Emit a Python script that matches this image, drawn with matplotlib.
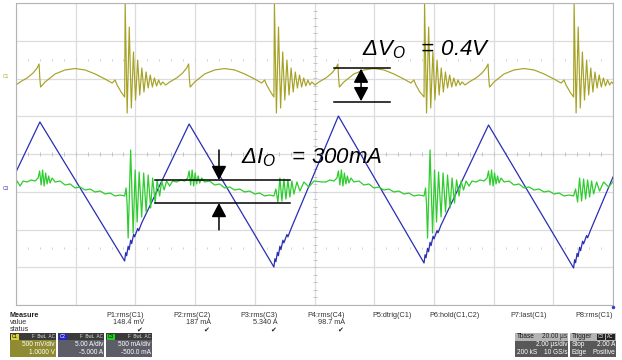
import numpy as np
import matplotlib.pyplot as plt
from matplotlib.patches import Rectangle

plt.rcParams['font.family'] = ['Liberation Sans', 'DejaVu Sans']
plt.rcParams['mathtext.fontset'] = 'custom'
plt.rcParams['mathtext.rm'] = 'Liberation Sans:italic'
plt.rcParams['mathtext.it'] = 'Liberation Sans:italic'

# switch-on edges (us), one per cycle
on_edges = [-1.37, 3.64, 8.64, 13.67, 18.68]
big_burst = [True, True, False, True, False]

# C1: output voltage (V, AC coupled), one cycle after the switch-on edge
c1_dt = [0.000, 0.017, 0.084, 0.154, 0.224, 0.295, 0.365, 0.436, 0.506, 0.576,
         0.647, 0.717, 0.787, 0.858, 0.928, 0.998, 1.069, 1.139, 1.206, 1.273,
         1.374, 1.508, 1.742, 1.943, 2.077, 2.144, 2.167, 2.194, 2.345, 2.680,
         3.015, 3.350, 3.685, 4.020, 4.355, 4.590, 4.690, 4.757, 4.891]
c1_v = [-0.245, 1.000, -0.457, 0.682, -0.391, 0.351, -0.285, 0.245, -0.219, 0.139,
        -0.179, 0.086, -0.126, 0.046, -0.113, 0.007, -0.099, -0.020, -0.086, -0.046,
        -0.086, -0.046, 0.007, 0.073, 0.139, 0.192, 0.007, -0.113, -0.046, 0.060,
        0.113, 0.132, 0.113, 0.060, -0.007, -0.060, -0.020, -0.086, -0.179]

# C2: inductor current (A), peaks and valleys
c2_t = [0.0, 0.80, 3.64, 5.80, 8.64, 10.80, 13.67, 15.83, 18.68, 20.0]
c2_a = [2.62, 9.24, -9.17, 8.97, -9.97, 10.03, -9.44, 8.84, -10.10, 1.95]
# ringing on the rising slope just after each valley
c2_ring_dt = [0.034, 0.067, 0.117, 0.151, 0.201, 0.235, 0.302, 0.335, 0.436, 0.469, 0.570]
c2_ring_da = [1.10, 0.70, 1.95, 1.50, 2.75, 2.30, 3.55, 3.20, 4.30, 4.00, 5.03]

# C3: output current (A, AC coupled)
c3_big_dt = [0.000, 0.050, 0.084, 0.117, 0.201, 0.285, 0.352, 0.419, 0.486, 0.570,
             0.637, 0.720, 0.787, 0.871, 0.938, 1.022, 1.089, 1.173, 1.240, 1.323,
             1.407, 1.508, 1.608]
c3_big_a = [-0.056, 0.050, -0.175, -0.613, 0.553, -0.546, 0.288, -0.401, 0.262, -0.334,
            0.248, -0.268, 0.222, -0.215, 0.182, -0.149, 0.156, -0.056, 0.142, 0.023,
            0.142, 0.076, 0.142]
c3_small_dt = [0.000, 0.067, 0.134, 0.201, 0.268, 0.335, 0.402, 0.469, 0.536, 0.603,
               0.670, 0.771, 0.871, 1.005, 1.173, 1.340, 1.608]
c3_small_a = [-0.056, 0.036, -0.136, 0.182, -0.123, 0.169, -0.096, 0.156, -0.070, 0.142,
              -0.030, 0.129, 0.010, 0.129, 0.063, 0.142, 0.129]
c3_tail_dt = [1.742, 1.876, 2.010, 2.111, 2.161, 2.211, 2.261, 2.312, 2.362, 2.412,
              2.462, 2.513, 2.580, 2.680, 2.848, 3.015, 3.183, 3.350, 3.518, 3.685,
              3.853, 4.020, 4.188, 4.355, 4.523, 4.690, 4.858]
c3_tail_a = [0.129, 0.156, 0.142, 0.182, 0.275, 0.089, 0.288, 0.076, 0.248, 0.103,
             0.209, 0.116, 0.182, 0.129, 0.142, 0.089, 0.103, 0.050, 0.063, 0.023,
             0.036, -0.003, 0.010, -0.030, -0.017, -0.056, -0.043]

# channel settings: (V or A)/div and offset
c1_scale, c1_offset = 0.5, 1.0
c2_scale, c2_offset = 5.0, -5.0
c3_scale, c3_offset = 0.5, -0.5

# measurements
meas_names = ['P1:rms(C1)', 'P2:rms(C2)', 'P3:rms(C3)', 'P4:rms(C4)',
              'P5:dtrig(C1)', 'P6:hold(C1,C2)', 'P7:last(C1)', 'P8:rms(C1)']
meas_values = ['148.4 mV', '187 mA', '5.340 A', '98.7 mA', '', '', '', '']
meas_ok = [True, True, True, True, False, False, False, False]

# ---- build traces ----
t1, v1 = [], []
for e in on_edges:
    t1 += [e + d for d in c1_dt]
    v1 += c1_v

t2, a2 = [c2_t[0]], [c2_a[0]]
for i in range(1, len(c2_t)):
    t2.append(c2_t[i]); a2.append(c2_a[i])
    if c2_a[i] < 0 and i < len(c2_t) - 1:
        t2 += [c2_t[i] + d for d in c2_ring_dt]
        a2 += [c2_a[i] + d for d in c2_ring_da]

t3, a3 = [], []
for e, big in zip(on_edges, big_burst):
    dts = (c3_big_dt if big else c3_small_dt) + c3_tail_dt
    vals = (c3_big_a if big else c3_small_a) + c3_tail_a
    t3 += [e + d for d in dts]
    a3 += vals

y1 = (np.array(v1) + c1_offset) / c1_scale
y2 = (np.array(a2) + c2_offset) / c2_scale
y3 = (np.array(a3) + c3_offset) / c3_scale

# ---- figure ----
fig = plt.figure(figsize=(6.22, 3.6), dpi=100)
ax = fig.add_axes([16/622, 55/360, 597/622, 302/360])
ax.set_xlim(0, 20)
ax.set_ylim(-4, 4)
ax.set_xticks(np.arange(0, 21, 2))
ax.set_yticks(np.arange(-4, 5, 1))
ax.grid(True, color='#dcdcdc', lw=0.9)
ax.tick_params(length=0, labelbottom=False, labelleft=False)
for s in ax.spines.values():
    s.set_color('#b4b4b4')

# small ticks on the centre lines and dotted rows
mx = np.arange(0.4, 20, 0.4)
ax.plot(mx, np.zeros_like(mx), '|', color='#c4c4c4', ms=3, mew=0.7)
ax.plot(mx, np.full_like(mx, 2.5), '|', color='#cfcfcf', ms=1.5, mew=0.7)
ax.plot(mx, np.full_like(mx, -2.5), '|', color='#cfcfcf', ms=1.5, mew=0.7)
my = np.arange(-3.8, 4, 0.2)
ax.plot(np.full_like(my, 10), my, '_', color='#c4c4c4', ms=3, mew=0.7)

ax.plot(t2, y2, color='#2a2eb2', lw=0.9)
ax.plot(t3, y3, color='#2fcc2f', lw=0.9)
ax.plot(t1, y1, color='#a6a226', lw=0.85)

arrow = dict(color='k', lw=1.1, mutation_scale=10, shrinkA=0, shrinkB=0)

# delta Vo annotation
ax.plot([10.65, 12.53], [2.278, 2.278], color='k', lw=1.1)
ax.plot([10.65, 12.53], [1.377, 1.377], color='k', lw=1.1)
ax.annotate('', xy=(11.56, 2.26), xytext=(11.56, 1.40),
            arrowprops=dict(arrowstyle='<|-|>,head_length=0.85,head_width=0.45', **arrow))
ax.text(11.60, 2.62, r'$\Delta V_O\ \ =\,0.4V$', fontsize=16, ha='left',
        va='baseline')

# delta Io annotation
ax.plot([4.66, 9.18], [-0.689, -0.689], color='k', lw=1.1)
ax.plot([4.66, 9.18], [-1.298, -1.298], color='k', lw=1.1)
ax.annotate('', xy=(6.80, -0.689), xytext=(6.80, 0.106),
            arrowprops=dict(arrowstyle='-|>,head_length=0.85,head_width=0.45', **arrow))
ax.annotate('', xy=(6.80, -1.298), xytext=(6.80, -2.01),
            arrowprops=dict(arrowstyle='-|>,head_length=0.85,head_width=0.45', **arrow))
ax.text(7.55, -0.238, r'$\Delta I_O\ \ =\,300mA$', fontsize=16, ha='left',
        va='baseline')

# channel markers at the left edge
fig.text(3/622, 1 - 77/360, 'C1', color='#a6a226', fontsize=3.5, va='center')
fig.text(3/622, 1 - 189/360, 'C3', color='#2a2eb2', fontsize=3.5, va='center')

# ---- status panel (pixel coordinates) ----
pan = fig.add_axes([0, 0, 1, 54/360])
pan.set_xlim(0, 622)
pan.set_ylim(360, 306)
pan.axis('off')
pan.plot([613], [306.5], 'o', color='#3040d0', ms=1.5, clip_on=False)

fs = 5.2
bfs = 4.7
pan.text(10, 315, 'Measure', fontsize=fs, fontweight='bold', va='center', color='#222')
pan.text(10, 322.8, 'value', fontsize=fs, va='center', color='#333')
pan.text(10, 329.5, 'status', fontsize=fs, va='center', color='#333')
cols_x = [144, 211, 278, 345, 412, 480, 547, 613]
for x, n, v, ok in zip(cols_x, meas_names, meas_values, meas_ok):
    pan.text(x, 315, n, fontsize=fs, ha='right', va='center', color='#333')
    if v:
        pan.text(x, 322.8, v, fontsize=fs, ha='right', va='center', color='#333')
    if ok:
        pan.text(x - 2, 329.8, '\u2714', fontsize=5, ha='right', va='center',
                 color='#222', family=['DejaVu Sans'])


def chan_box(x0, badge, badge_col, body_col, line1, line2, badge_txt='#000'):
    pan.add_patch(Rectangle((x0, 333), 46, 24, color=body_col, lw=0))
    pan.add_patch(Rectangle((x0, 333), 46, 7, color='#3a3a3a', lw=0))
    pan.add_patch(Rectangle((x0 + 0.5, 333.5), 8, 6, color=badge_col, lw=0))
    pan.text(x0 + 4.5, 336.6, badge, fontsize=3.3, ha='center', va='center',
             color=badge_txt)
    pan.text(x0 + 45, 336.6, 'F  BwL  AC', fontsize=3.3, ha='right', va='center',
             color='#e0e0e0')
    pan.text(x0 + 45, 344.5, line1, fontsize=bfs, ha='right', va='center', color='w')
    pan.text(x0 + 45, 352, line2, fontsize=bfs, ha='right', va='center', color='w')


chan_box(10, 'C1', '#d9d23a', '#8f8b32', '500 mV/div', '1.0000 V')
chan_box(58, 'C2', '#2323d0', '#5d5d68', '5.00 A/div', '-5.000 A', badge_txt='#fff')
chan_box(106, 'C3', '#22d022', '#5d5d68', '500 mA/div', '-500.0 mA')

# timebase box
pan.add_patch(Rectangle((515, 333), 53, 24, color='#585858', lw=0))
pan.add_patch(Rectangle((515, 333), 53, 7.5, color='#b4b4b4', lw=0))
pan.text(517, 336.8, 'Tbase', fontsize=bfs, va='center', color='#111')
pan.text(567, 336.8, '20.00 \u00b5s', fontsize=bfs, ha='right', va='center', color='#222')
pan.text(567, 344.8, '2.00 \u00b5s/div', fontsize=bfs, ha='right', va='center', color='w')
pan.text(517, 352.3, '200 kS', fontsize=bfs, va='center', color='w')
pan.text(567, 352.3, '10 GS/s', fontsize=bfs, ha='right', va='center', color='w')

# trigger box
pan.add_patch(Rectangle((570, 333), 46, 24, color='#585858', lw=0))
pan.add_patch(Rectangle((570, 333), 46, 7.5, color='#b4b4b4', lw=0))
pan.add_patch(Rectangle((597, 334), 8, 5.5, color='#222', lw=0))
pan.add_patch(Rectangle((606, 334), 9, 5.5, color='#222', lw=0))
pan.text(572, 336.8, 'Trigger', fontsize=bfs, va='center', color='#111')
pan.text(601, 336.8, 'C3', fontsize=3.3, ha='center', va='center', color='w')
pan.text(610.5, 336.8, 'AC', fontsize=3.3, ha='center', va='center', color='w')
pan.text(572, 344.8, 'Stop', fontsize=bfs, va='center', color='w')
pan.text(615, 344.8, '2.00 A', fontsize=bfs, ha='right', va='center', color='w')
pan.text(572, 352.3, 'Edge', fontsize=bfs, va='center', color='w')
pan.text(615, 352.3, 'Positive', fontsize=bfs, ha='right', va='center', color='w')

fig.savefig('out.png', dpi=100, facecolor='white')
